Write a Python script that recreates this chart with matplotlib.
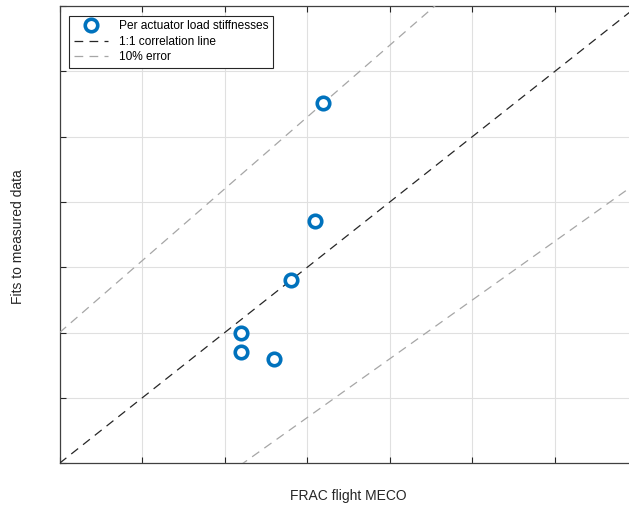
import matplotlib
matplotlib.use("Agg")
import matplotlib.pyplot as plt
import numpy as np

plt.rcParams['font.family'] = ['Liberation Sans', 'DejaVu Sans']

# Per-actuator load stiffness: flight (MECO) vs fitted values
flight_meco = [3.19, 3.10, 2.80, 2.20, 2.20, 2.60]
fitted = [5.51, 3.71, 2.80, 2.00, 1.70, 1.60]

# Reference lines
line_x = [0.0, 7.5]
ratio_exact = 1.0
ratio_hi, offset_hi = 1.1, 2.0
ratio_lo, offset_lo = 0.9, -2.0

x_ticks = [0, 1, 2, 3, 4, 5, 6, 7]
y_ticks = [0, 1, 2, 3, 4, 5, 6, 7]

W, H = 629, 508
fig = plt.figure(figsize=(W / 100, H / 100), dpi=100)
ax = fig.add_axes([59.5 / W, (H - 463.3) / H, 578.0 / W, 457.3 / H])

lx = np.array(line_x)
ax.plot(lx, ratio_exact * lx, color='#262626', lw=0.9, dashes=(7, 5),
        label='1:1 correlation line', zorder=3)
ax.plot(lx, ratio_hi * lx + offset_hi, color='#a6a6a6', lw=0.9, dashes=(7, 5),
        label='10% error', zorder=3)
ax.plot(lx, ratio_lo * lx + offset_lo, color='#a6a6a6', lw=0.9, dashes=(7, 5),
        zorder=3)
ax.plot(flight_meco, fitted, linestyle='none', marker='o', markersize=9,
        markerfacecolor='white', markeredgecolor='#0072BD', markeredgewidth=2.6,
        label='Per actuator load stiffnesses', zorder=4)

ax.set_xlim(x_ticks[0], x_ticks[-1])
ax.set_ylim(y_ticks[0], y_ticks[-1])
ax.set_xticks(x_ticks)
ax.set_yticks(y_ticks)
ax.set_xticklabels([])
ax.set_yticklabels([])
ax.tick_params(direction='in', length=4, width=0.8, color='#262626',
               top=True, right=True)
ax.grid(True, color='#e0e0e0', lw=0.8)
ax.set_axisbelow(True)
for s in ax.spines.values():
    s.set_color('#404040')
    s.set_linewidth(0.9)

fig.text(348 / W, 1 - 496 / H, 'FRAC flight MECO', fontsize=10,
         color='#262626', ha='center', va='center')
fig.text(18 / W, 1 - 237 / H, 'Fits to measured data', fontsize=10,
         color='#262626', ha='center', va='center', rotation=90)

handles, labels = ax.get_legend_handles_labels()
order = [2, 0, 1]
leg = ax.legend([handles[i] for i in order], [labels[i] for i in order],
                loc='upper left', bbox_to_anchor=(9.5 / 578, 1 - 9.5 / 457.3),
                fontsize=8.6, frameon=True, fancybox=False,
                edgecolor='#262626', framealpha=1, borderpad=0.4,
                labelspacing=0.3, handlelength=2.9, handletextpad=0.9,
                borderaxespad=0)
leg.get_frame().set_linewidth(0.8)

fig.savefig('out.png', dpi=100)
